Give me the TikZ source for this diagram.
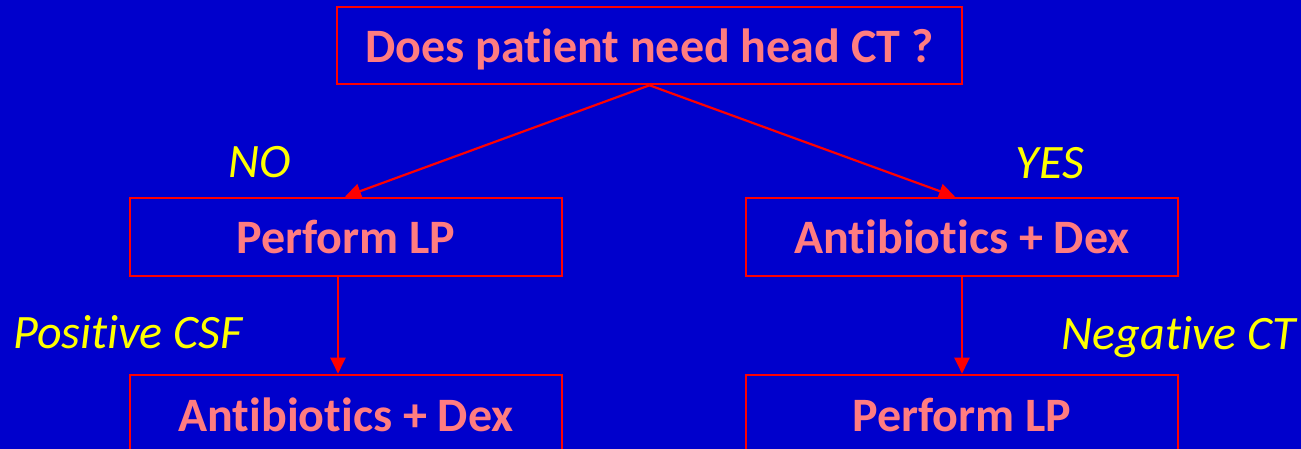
\documentclass[tikz,border=0pt]{standalone}
\usepackage{fontspec}
\setmainfont{Carlito}[RawFeature=-liga]
\usetikzlibrary{arrows.meta}
\definecolor{bg}{HTML}{0000CC}
\definecolor{boxred}{HTML}{FF0000}
\definecolor{salmon}{HTML}{FF7C80}
\definecolor{lblyellow}{HTML}{FFFF00}
\tikzset{
  flowbox/.style={draw=boxred, line width=2.6pt, rectangle, inner sep=0pt,
    text=salmon, text height=31pt, text depth=0pt,
    font=\fontsize{48}{54}\selectfont\bfseries},
  lbl/.style={text=lblyellow, inner sep=0pt, text height=31pt, text depth=0pt,
    font=\fontsize{48}{54}\selectfont\itshape},
  arr/.style={draw=boxred, line width=2.2pt, -{Triangle[length=16pt,width=15pt]}}
}
\begin{document}
\begin{tikzpicture}[x=1pt,y=-1pt]
\useasboundingbox (0,0) rectangle (1301,449);
\clip (0,0) rectangle (1301,449);
\fill[bg] (0,0) rectangle (1301,449);
\node[flowbox, minimum width=625pt, minimum height=77pt] (q) at (649.5,45.5) {\raisebox{-1.5pt}{Does patient need head CT ?}};
\node[flowbox, minimum width=432pt, minimum height=78pt] (lp1) at (346,237) {\raisebox{-1.5pt}{Perform LP}};
\node[flowbox, minimum width=432pt, minimum height=78pt] (ab1) at (962,237) {\raisebox{-1.5pt}{Antibiotics + Dex}};
\node[flowbox, minimum width=432pt, minimum height=78pt] (ab2) at (346,414) {\raisebox{-1.5pt}{Antibiotics + Dex}};
\node[flowbox, minimum width=432pt, minimum height=78pt] (lp2) at (962,414) {\raisebox{-1.5pt}{Perform LP}};
\node[lbl] (no) at (260,162) {NO};
\node[lbl] (yes) at (1050,163) {YES};
\node[lbl] (pos) at (128,333) {Positive CSF};
\node[lbl] (neg) at (1179,334) {Negative CT};
\draw[arr] (q.south) -- ([xshift=-1pt]lp1.north);
\draw[arr] (q.south) -- ([xshift=-7pt]ab1.north);
\draw[arr] ([xshift=-8pt]lp1.south) -- ([xshift=-8pt]ab2.north);
\draw[arr] (ab1.south) -- (lp2.north);
\end{tikzpicture}
\end{document}
